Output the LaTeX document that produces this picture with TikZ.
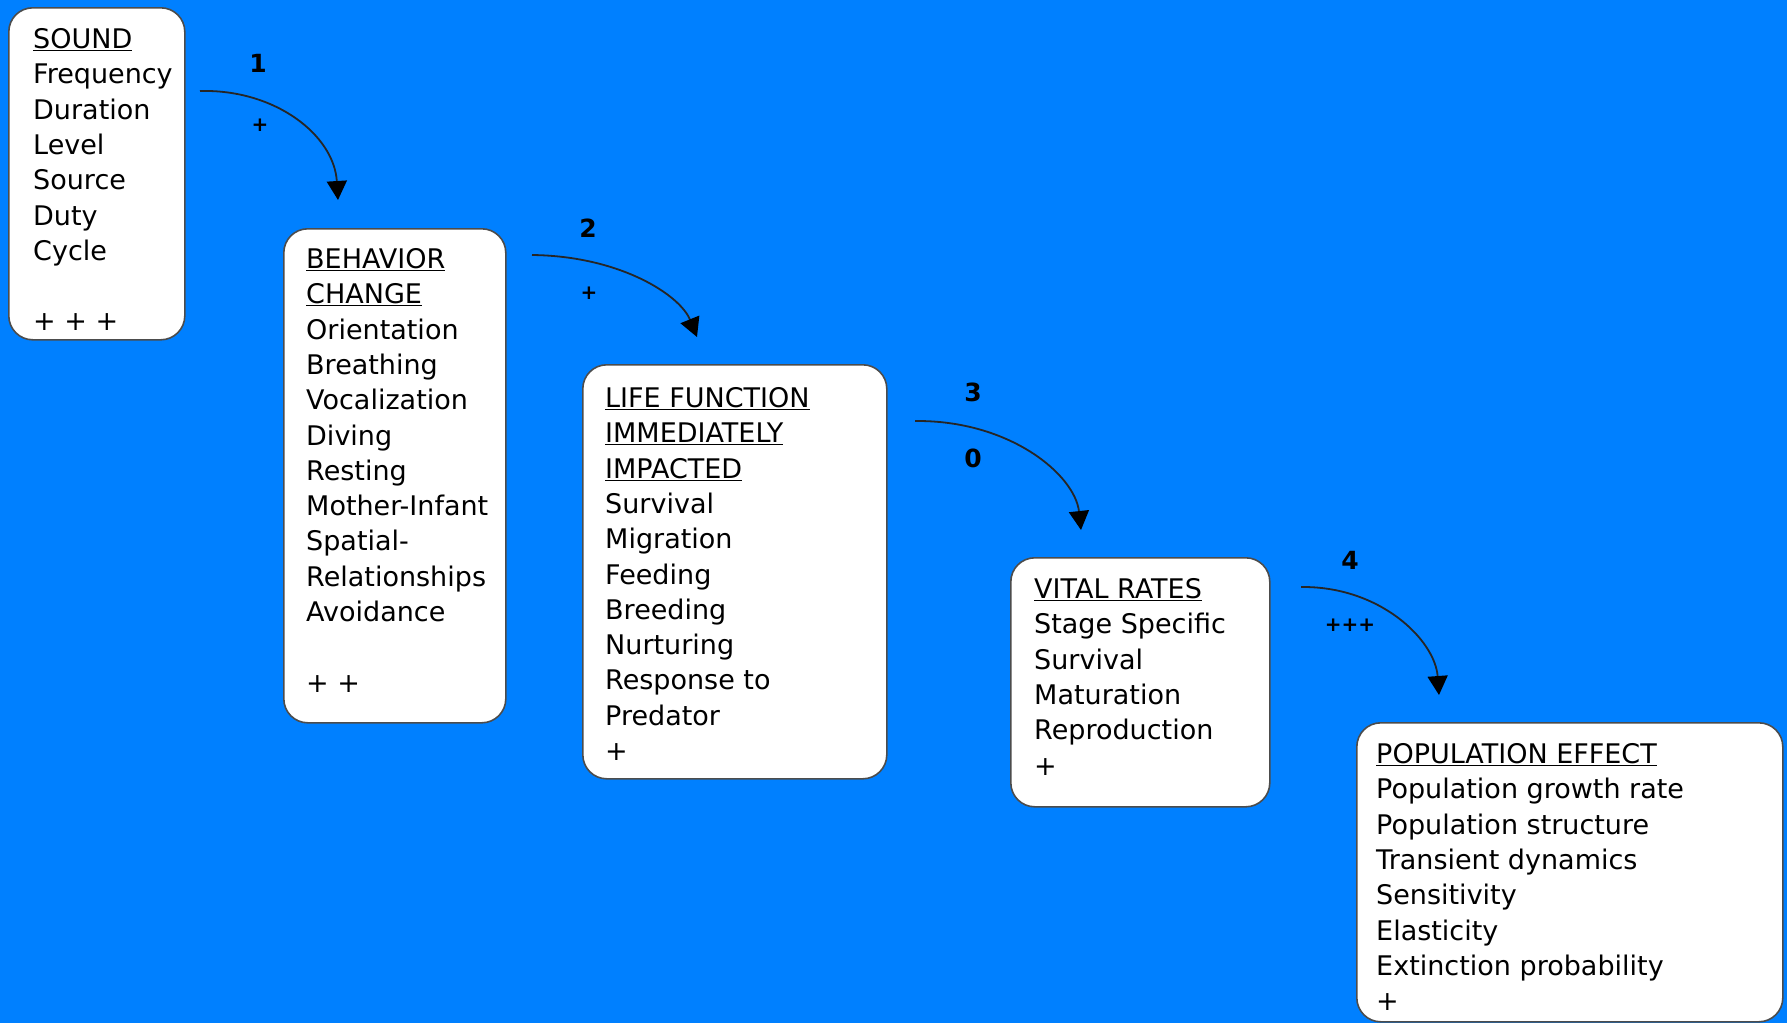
\documentclass[tikz,border=0pt]{standalone}
\usepackage{fontspec}
\setmainfont{DejaVu Sans}
\usetikzlibrary{arrows.meta}
\definecolor{bg}{RGB}{0,128,255}
\begin{document}
\begin{tikzpicture}[x=1pt,y=-1pt,
  box/.style={draw=black!70, line width=1.6pt, fill=white, rounded corners=24pt, inner sep=0pt, anchor=north west},
  txt/.style={anchor=north west, align=left, inner sep=0pt, font=\fontsize{27}{35.3}\selectfont},
  num/.style={font=\bfseries\fontsize{25}{25}\selectfont, inner sep=0pt},
  sign/.style={font=\bfseries\fontsize{20}{20}\selectfont, inner sep=0pt},
  conn/.style={draw=black!85, line width=1.8pt, -{Triangle[length=19pt,width=20pt,color=black]}}]
\useasboundingbox (0,0) rectangle (1787,1023);
\fill[bg] (0,0) rectangle (1787,1023);

% boxes
\node[box, minimum width=176pt, minimum height=332pt] (b1) at (8,7) {};
\node[box, minimum width=222pt, minimum height=494pt] (b2) at (283,228) {};
\node[box, minimum width=304pt, minimum height=414pt] (b3) at (582,364) {};
\node[box, minimum width=259pt, minimum height=249pt] (b4) at (1010,557) {};
\node[box, minimum width=426pt, minimum height=299pt] (b5) at (1356,722) {};

% texts
\node[txt] (t1) at (33,28.3) {\underline{SOUND}\\Frequency\\Duration\\Level\\Source\\Duty\\Cycle\\[35.3pt]+ + +};
\node[txt] (t2) at (306,248.3) {\underline{BEHAVIOR}\\\underline{CHANGE}\\Orientation\\Breathing\\Vocalization\\Diving\\Resting\\Mother-Infant\\Spatial-\\Relationships\\Avoidance\\[35.3pt]+ +};
\node[txt] (t3) at (605,387.3) {\underline{LIFE FUNCTION}\\\underline{IMMEDIATELY}\\\underline{IMPACTED}\\Survival\\Migration\\Feeding\\Breeding\\Nurturing\\Response to\\Predator\\+};
\node[txt] (t4) at (1034,578.3) {\underline{VITAL RATES}\\Stage Specific\\Survival\\Maturation\\Reproduction\\+};
\node[txt] (t5) at (1376,743.3) {\underline{POPULATION EFFECT}\\Population growth rate\\Population structure\\Transient dynamics\\Sensitivity\\Elasticity\\Extinction probability\\+};

% connector end points
\coordinate (a1s) at (200,91);   \coordinate (a1e) at (338,200);
\coordinate (a2s) at (532,255);  \coordinate (a2e) at (697,337);
\coordinate (a3s) at (915,421);  \coordinate (a3e) at (1081,530);
\coordinate (a4s) at (1301,587); \coordinate (a4e) at (1439,695);

\draw[conn] (a1s) .. controls (275,89) and (334,135) .. (a1e);
\draw[conn] (a2s) .. controls (620,256) and (680,295) .. (a2e);
\draw[conn] (a3s) .. controls (1010,420) and (1075,475) .. (a3e);
\draw[conn] (a4s) .. controls (1380,586) and (1435,640) .. (a4e);

% connector labels
\node[num] (n1) at (258,63) {1};
\node[sign] (p1) at (260,125) {+};
\node[num] (n2) at (588,228) {2};
\node[sign] (p2) at (589,293) {+};
\node[num] (n3) at (973,392) {3};
\node[num] (p3) at (973,458) {0};
\node[num] (n4) at (1350,560) {4};
\node[sign] (p4) at (1350,625) {+++};
\end{tikzpicture}
\end{document}
